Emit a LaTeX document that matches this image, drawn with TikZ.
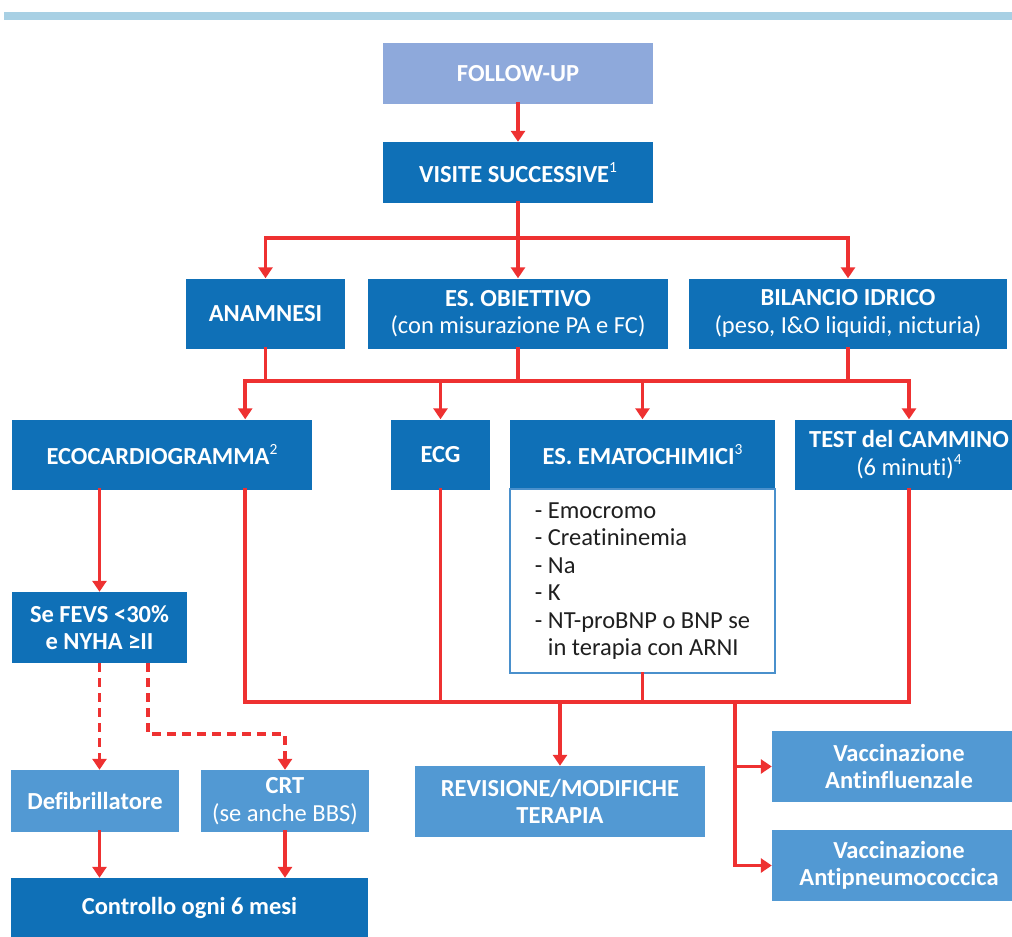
\documentclass[tikz,border=0pt]{standalone}
\usepackage{fontspec}
\setmainfont{Carlito}[Ligatures=NoCommon]
\usetikzlibrary{arrows.meta}

\definecolor{barblue}{HTML}{A8D0E4}
\definecolor{paleblue}{HTML}{8EA9DB}
\definecolor{deepblue}{HTML}{0F70B7}
\definecolor{midblue}{HTML}{5299D3}
\definecolor{listblue}{HTML}{4A90CC}
\definecolor{flowred}{HTML}{EE3131}
\definecolor{listgray}{HTML}{1F1F1F}

\newcommand{\fnmark}[1]{\raisebox{0.42em}{\fontsize{15.5}{15.5}\selectfont\mdseries #1}}

\tikzset{
  box/.style={rectangle, inner sep=0pt, text=white, align=center,
    font=\fontsize{24.5}{27.5}\selectfont\bfseries},
  deep/.style={box, fill=deepblue},
  mid/.style={box, fill=midblue},
  pale/.style={box, fill=paleblue},
  link/.style={draw=flowred, line width=3.8pt, line cap=rect},
  arrow/.style={link, -{Triangle[width=14pt,length=11pt]}},
  dashlink/.style={arrow, line cap=butt, dash pattern=on 9pt off 6pt}
}

\begin{document}
\begin{tikzpicture}[x=1pt, y=-1pt]
    \useasboundingbox (0,0) rectangle (1012,937);
    %band
    \fill[barblue] (4,12) rectangle (1012,20);

    %boxes
    \node[pale, minimum width=270pt, minimum height=61pt] (follow) at (518,73.5) {FOLLOW-UP};
    \node[deep, minimum width=270pt, minimum height=61pt] (visite) at (518,172.5) {VISITE SUCCESSIVE\fnmark{1}};

    \node[deep, minimum width=159pt, minimum height=70pt] (anam) at (265.5,313.5) {ANAMNESI};
    \node[deep, minimum width=300pt, minimum height=70pt] (obiet) at (518,313.5) {ES. OBIETTIVO\\\mdseries (con misurazione PA e FC)};
    \node[deep, minimum width=318pt, minimum height=70pt] (bilancio) at (848,313.5) {BILANCIO IDRICO\\\mdseries (peso, I\&O liquidi, nicturia)};

    \node[deep, minimum width=300pt, minimum height=70pt] (eco) at (162,454.5) {ECOCARDIOGRAMMA\fnmark{2}};
    \node[deep, minimum width=99pt, minimum height=70pt] (ecg) at (440.5,454.5) {ECG};
    \node[deep, minimum width=265pt, minimum height=70pt] (emato) at (642.5,454.5) {ES. EMATOCHIMICI\fnmark{3}};
    \node[draw=listblue, line width=1.5pt, fill=white, text=listgray, align=left,
      inner sep=0pt, minimum width=265pt, minimum height=184pt,
      font=\fontsize{24.5}{27.5}\selectfont] (emlist) at (642.5,581)
      {- Emocromo\\- Creatininemia\\- Na\\- K\\- NT-proBNP o BNP se\\\hphantom{- }in terapia con ARNI};
    \node[deep, minimum width=228pt, minimum height=70pt] (test) at (909,454.5) {TEST del CAMMINO\\\mdseries (6 minuti)\fnmark{4}};

    \node[deep, minimum width=175pt, minimum height=71pt] (fevs) at (99.5,627.5) {Se FEVS <30\%\\e NYHA ≥II};
    \node[mid, minimum width=168pt, minimum height=62pt] (defib) at (95,801) {Defibrillatore};
    \node[mid, minimum width=168pt, minimum height=62pt] (crt) at (285,801) {CRT\\\mdseries (se anche BBS)};
    \node[deep, minimum width=357pt, minimum height=60pt] (controllo) at (189.5,908) {Controllo ogni 6 mesi};

    \node[mid, minimum width=290pt, minimum height=71pt] (revis) at (560,801.5) {REVISIONE/MODIFICHE\\TERAPIA};
    \node[mid, minimum width=254pt, minimum height=71pt] (vacc1) at (899,766.5) {Vaccinazione\\Antinfluenzale};
    \node[mid, minimum width=254pt, minimum height=71pt] (vacc2) at (899,865.5) {Vaccinazione\\Antipneumococcica};

    %taps and buses
    \coordinate (bus2) at (0,381);
    \coordinate (bus3) at (0,702);
    \coordinate (bend) at (0,734);
    \coordinate (ecotap) at ([xshift=-67pt]eco.north east);
    \coordinate (ecodrop) at ([xshift=-67pt]eco.south east);
    \coordinate (fevstap) at ([xshift=48.5pt]fevs.south);
    \coordinate (vtap) at (735,702);

    %top
    \draw[arrow] (follow) -- (visite);
    \draw[arrow] (visite.south) -- ++(0,35) -| (anam.north);
    \draw[arrow] (visite.south) -- ++(0,35) -| (bilancio.north);
    \draw[arrow] (visite) -- (obiet);

    %middle
    \draw[link] (anam) -- (anam.south |- bus2);
    \draw[link] (obiet) -- (obiet.south |- bus2);
    \draw[link] (bilancio) -- (bilancio.south |- bus2);
    \draw[link] (ecotap |- bus2) -- (test.north |- bus2);
    \foreach \t in {ecotap, ecg.north, emato.north, test.north}
        \draw[arrow] (\t |- bus2) -- (\t);

    %lower
    \draw[link] (ecodrop) -- (ecodrop |- bus3) -- (test.south |- bus3) -- (test.south);
    \draw[link] (ecg) -- (ecg.south |- bus3);
    \draw[link] (emlist) -- (emlist.south |- bus3);
    \draw[arrow] (revis.north |- bus3) -- (revis);
    \draw[arrow] (vtap) |- (vacc1.west);
    \draw[arrow] (vtap) |- (vacc2.west);

    %echo branch
    \draw[arrow] (fevs.north |- eco.south) -- (fevs.north);
    \draw[dashlink] (fevs.south) -- (fevs.south |- defib.north);
    \draw[dashlink] (fevstap) -- (fevstap |- bend) -| (crt.north);
    \draw[arrow] (fevs.south |- defib.south) -- (fevs.south |- controllo.north);
    \draw[arrow] (crt) -- (crt |- controllo.north);
\end{tikzpicture}
\end{document}
